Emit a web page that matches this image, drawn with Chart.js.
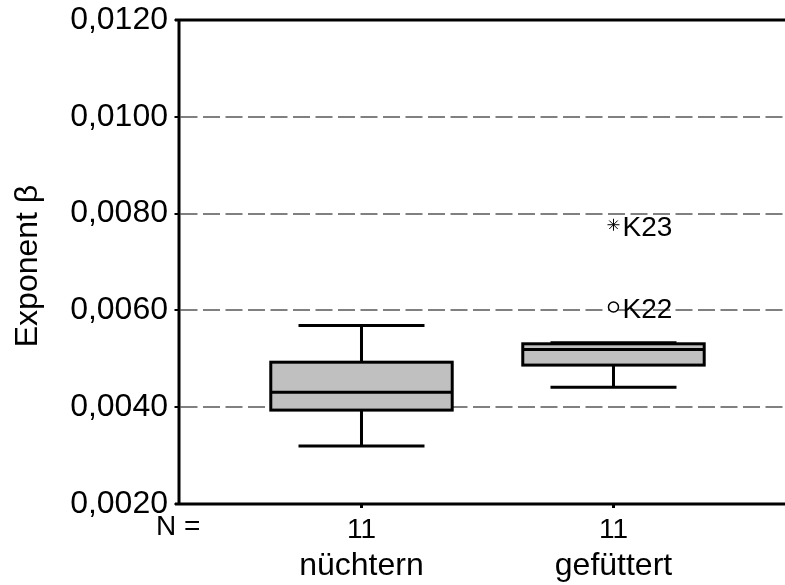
<!DOCTYPE html>
<html>
<head>
<meta charset="utf-8">
<script src="https://cdn.jsdelivr.net/npm/chart.js@4.4.0/dist/chart.umd.min.js"></script>
<style>
  html, body { margin: 0; padding: 0; background: #fff; }
</style>
</head>
<body>
<canvas id="chart" width="785" height="585"></canvas>
<script>
// ================== Daten ==================

const categories = ["nüchtern", "gefüttert"];
const nCases = ["11", "11"];

// Boxplot-Kennwerte je Gruppe
const whiskerLow = [0.00320, 0.00441];
const quartile1 = [0.00394, 0.00487];
const median = [0.00431, 0.00519];
const quartile3 = [0.00493, 0.00531];
const whiskerHigh = [0.00569, 0.00533];

// Ausreißer (Gruppe 1-basiert)
const outlierGroup = [2, 2];
const outlierValue = [0.00607, 0.00777];
const outlierName = ["K22", "K23"];
const outlierStyle = ["circle", "star"];

const yTicks = [0.0020, 0.0040, 0.0060, 0.0080, 0.0100, 0.0120];

// ================== Layout ==================

const FONT = '"Liberation Sans", Arial, sans-serif';
const X_MIN = 0.2758;
const X_MAX = 2.6806;
const BOX_WIDTH = 0.72;   // in x-Einheiten
const CAP_WIDTH = 0.5;

function formatTick(v) {
  return v.toFixed(4).replace(".", ",");
}

// Gitterlinien + Boxen hinter die Ausreißer zeichnen
const boxplotPlugin = {
  id: "boxplot",
  beforeDatasetsDraw(chart) {
    const { ctx, chartArea, scales } = chart;
    const xs = scales.x;
    const ys = scales.y;

    // gestrichelte Gitterlinien
    ctx.save();
    ctx.strokeStyle = "#808080";
    ctx.lineWidth = 2;
    ctx.setLineDash([17, 5.5]);
    yTicks.forEach((v) => {
      if (v === ys.min || v === ys.max) return;
      const y = Math.round(ys.getPixelForValue(v));
      ctx.beginPath();
      ctx.moveTo(chartArea.left + 1.5, y);
      ctx.lineTo(chartArea.right, y);
      ctx.stroke();
    });
    ctx.restore();

    // Boxen
    ctx.save();
    ctx.strokeStyle = "#000";
    ctx.lineWidth = 3;
    ctx.lineCap = "butt";
    categories.forEach((c, i) => {
      const g = i + 1;
      const cx = xs.getPixelForValue(g);
      const bl = xs.getPixelForValue(g - BOX_WIDTH / 2);
      const br = xs.getPixelForValue(g + BOX_WIDTH / 2);
      const cl = xs.getPixelForValue(g - CAP_WIDTH / 2);
      const cr = xs.getPixelForValue(g + CAP_WIDTH / 2);
      const yLo = ys.getPixelForValue(whiskerLow[i]);
      const yHi = ys.getPixelForValue(whiskerHigh[i]);
      const yQ1 = ys.getPixelForValue(quartile1[i]);
      const yQ3 = ys.getPixelForValue(quartile3[i]);
      const yMed = ys.getPixelForValue(median[i]);

      ctx.beginPath();
      ctx.moveTo(cx, yHi); ctx.lineTo(cx, yQ3);
      ctx.moveTo(cx, yQ1); ctx.lineTo(cx, yLo);
      ctx.moveTo(cl, yHi); ctx.lineTo(cr, yHi);
      ctx.moveTo(cl, yLo); ctx.lineTo(cr, yLo);
      ctx.stroke();

      ctx.fillStyle = "#c0c0c0";
      ctx.fillRect(bl, yQ3, br - bl, yQ1 - yQ3);
      ctx.strokeRect(bl, yQ3, br - bl, yQ1 - yQ3);

      ctx.beginPath();
      ctx.moveTo(bl, yMed); ctx.lineTo(br, yMed);
      ctx.stroke();
    });
    ctx.restore();
  },

  afterDraw(chart) {
    const { ctx, chartArea, scales } = chart;
    const xs = scales.x;
    const ys = scales.y;
    const left = chartArea.left;
    const top = chartArea.top;
    const bottom = chartArea.bottom;

    ctx.save();
    ctx.strokeStyle = "#000";

    // Rahmen: oben, links, unten
    ctx.lineWidth = 3;
    ctx.beginPath();
    ctx.moveTo(left - 4, top); ctx.lineTo(chartArea.right, top);
    ctx.moveTo(left, top - 1.5); ctx.lineTo(left, bottom + 1.5);
    ctx.moveTo(left - 4, bottom); ctx.lineTo(chartArea.right, bottom);
    ctx.stroke();

    // Teilstriche y
    ctx.lineWidth = 2;
    yTicks.forEach((v) => {
      const y = Math.round(ys.getPixelForValue(v));
      ctx.beginPath();
      ctx.moveTo(left - 4.5, y);
      ctx.lineTo(left, y);
      ctx.stroke();
    });

    // Teilstriche x
    ctx.lineWidth = 3;
    categories.forEach((c, i) => {
      const cx = xs.getPixelForValue(i + 1);
      ctx.beginPath();
      ctx.moveTo(cx, bottom);
      ctx.lineTo(cx, bottom + 4);
      ctx.stroke();
    });

    // Achsentitel
    ctx.fillStyle = "#000";
    ctx.save();
    ctx.translate(37, 266);
    ctx.rotate(-Math.PI / 2);
    ctx.font = "32px " + FONT;
    ctx.textAlign = "center";
    ctx.textBaseline = "alphabetic";
    ctx.fillText("Exponent β", 0, 0);
    ctx.restore();

    // N-Zeile und Gruppennamen
    ctx.textBaseline = "alphabetic";
    ctx.font = "28px " + FONT;
    ctx.textAlign = "left";
    ctx.fillText("N =", 156, 535);
    ctx.textAlign = "center";
    categories.forEach((c, i) => {
      const cx = xs.getPixelForValue(i + 1);
      ctx.font = "28px " + FONT;
      ctx.fillText(nCases[i], cx, 538);
      ctx.font = "32px " + FONT;
      ctx.fillText(c, cx, 575);
    });

    // Beschriftung der Ausreißer
    const meta = chart.getDatasetMeta(0);
    ctx.font = "28px " + FONT;
    ctx.textAlign = "left";
    meta.data.forEach((pt, i) => {
      ctx.fillText(outlierName[i], pt.x + 9, pt.y + 11);
    });
    ctx.restore();
  },
};

const ctx = document.getElementById("chart").getContext("2d");

new Chart(ctx, {
  type: "scatter",
  data: {
    datasets: [
      {
        data: outlierValue.map((v, i) => ({ x: outlierGroup[i], y: v })),
        pointStyle: outlierStyle,
        pointRadius: [5, 6],
        pointBorderWidth: [1.5, 1],
        borderColor: "#000",
        backgroundColor: "#fff",
      },
    ],
  },
  options: {
    responsive: false,
    animation: false,
    devicePixelRatio: 1,
    layout: {
      autoPadding: false,
      padding: { top: 20, right: 0, left: 0, bottom: 0 },
    },
    scales: {
      x: {
        type: "linear",
        min: X_MIN,
        max: X_MAX,
        ticks: { display: false },
        grid: { display: false },
        border: { display: false },
        afterFit: (scale) => {
          scale.height = 81;
          scale.paddingLeft = 0;
          scale.paddingRight = 0;
        },
      },
      y: {
        min: 0.002,
        max: 0.012,
        afterBuildTicks: (scale) => {
          scale.ticks = yTicks.map((v) => ({ value: v }));
        },
        ticks: {
          color: "#000",
          padding: 11,
          font: { family: FONT, size: 32 },
          callback: (v) => formatTick(v),
        },
        grid: { display: false, drawTicks: false },
        border: { display: false },
        afterFit: (scale) => {
          scale.width = 179;
          scale.paddingTop = 0;
          scale.paddingBottom = 0;
        },
      },
    },
    plugins: {
      legend: { display: false },
      tooltip: { enabled: false },
    },
  },
  plugins: [boxplotPlugin],
});
</script>
</body>
</html>
